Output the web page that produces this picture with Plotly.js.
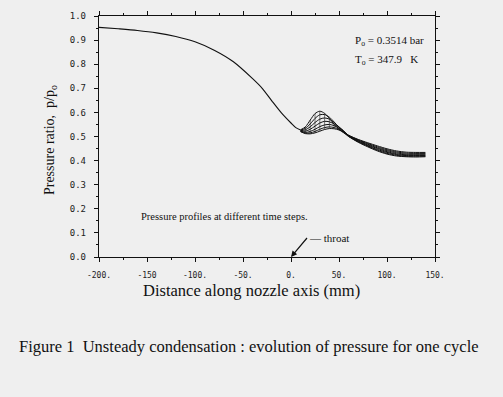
<!DOCTYPE html>
<html><head><meta charset="utf-8">
<script src="https://cdn.plot.ly/plotly-3.0.1.min.js"></script>
<style>html,body{margin:0;padding:0;background:#efefef;}</style>
</head><body><div id="plot" style="width:503px;height:397px;"></div>
<script>
// Shared upstream profile (mm, p/p0)
const xUp = [-200,-180,-160,-140,-120,-100,-80,-60,-40,-30,-20,-10,0,5,10];
const pUp = [0.953,0.947,0.940,0.930,0.915,0.893,0.858,0.810,0.740,0.700,0.648,0.598,0.556,0.537,0.527];
// Downstream profiles at different time steps
const xDown = [10,15,20,25,30,35,40,45,50,55,60,70,80,90,100,110,120,130,140];
const step1 = [0.528,0.540,0.568,0.595,0.605,0.596,0.575,0.550,0.530,0.515,0.500,0.476,0.457,0.440,0.427,0.419,0.416,0.415,0.416];
const step2 = [0.526,0.534,0.552,0.575,0.590,0.591,0.580,0.560,0.538,0.520,0.501,0.478,0.460,0.443,0.430,0.422,0.418,0.418,0.418];
const step3 = [0.524,0.528,0.540,0.558,0.572,0.577,0.572,0.557,0.540,0.523,0.502,0.480,0.462,0.446,0.434,0.425,0.421,0.421,0.421];
const step4 = [0.523,0.522,0.530,0.543,0.556,0.563,0.561,0.552,0.538,0.522,0.503,0.482,0.465,0.450,0.437,0.428,0.424,0.424,0.424];
const step5 = [0.522,0.517,0.521,0.530,0.541,0.548,0.550,0.545,0.534,0.520,0.504,0.484,0.468,0.453,0.441,0.432,0.427,0.427,0.427];
const step6 = [0.521,0.514,0.515,0.521,0.530,0.537,0.540,0.537,0.530,0.518,0.505,0.486,0.471,0.457,0.445,0.436,0.431,0.430,0.430];
const step7 = [0.520,0.512,0.511,0.515,0.522,0.529,0.533,0.532,0.527,0.517,0.505,0.488,0.474,0.461,0.449,0.440,0.435,0.434,0.434];
const steps = [step1,step2,step3,step4,step5,step6,step7];
const xTicks = [-200,-150,-100,-50,0,50,100,150];
const xTickText = ['-200.','-150','-100.','-50.','0.','50.','100.','150.'];
const yTicks = [0,0.1,0.2,0.3,0.4,0.5,0.6,0.7,0.8,0.9,1.0];
const yTickText = ['0.0','0.1','0.2','0.3','0.4','0.5','0.6','0.7','0.8','0.9','1.0'];

const lineStyle = {color:'#111', width:1.1, shape:'spline', smoothing:0.8};
const traces = [{x:xUp, y:pUp, mode:'lines', line:lineStyle, hoverinfo:'skip'}];
steps.forEach(s => traces.push({x:xDown, y:s, mode:'lines', line:{color:'#111', width:1.0, shape:'spline', smoothing:0.8}, hoverinfo:'skip'}));
// mesh connectors between time steps in the bump region
const mx = [], my = [];
xDown.forEach((x,i) => { if (x>=15 && x<=55) { mx.push(x,x,null); my.push(step1[i], step7[i], null); } });
traces.push({x:mx, y:my, mode:'lines', line:{color:'#222', width:0.6}, hoverinfo:'skip'});

const serif = 'Liberation Serif, Times New Roman, serif';
const axisCommon = {showline:true, linecolor:'#111', linewidth:1.2, mirror:'ticks', ticks:'outside', ticklen:4, tickcolor:'#111', tickwidth:1, showgrid:false, zeroline:false};
const layout = {
  width:503, height:397, showlegend:false,
  paper_bgcolor:'#efefef', plot_bgcolor:'#efefef',
  margin:{l:99, r:68, t:16, b:140},
  xaxis:Object.assign({}, axisCommon, {range:[-200,150], tickvals:xTicks, ticktext:xTickText, ticklabelstandoff:6,
    tickfont:{family:'DejaVu Sans Mono, monospace', size:8, color:'#222'},
    minor:{dtick:25, ticks:'outside', ticklen:2, tickcolor:'#111'}}),
  yaxis:Object.assign({}, axisCommon, {range:[0,1], tickvals:yTicks, ticktext:yTickText, ticklabelstandoff:6,
    tickfont:{family:'DejaVu Sans Mono, monospace', size:9, color:'#222'},
    minor:{dtick:0.05, ticks:'outside', ticklen:2, tickcolor:'#111'}}),
  annotations:[
    {xref:'paper', yref:'paper', x:-0.146, y:0.485, xanchor:'center', yanchor:'middle', text:'Pressure ratio,  p/p<sub>o</sub>', textangle:-90, showarrow:false, font:{family:serif, size:14, color:'#111'}},
    {xref:'paper', yref:'paper', x:0.455, y:-0.137, xanchor:'center', yanchor:'middle', text:'Distance along nozzle axis (mm)', showarrow:false, font:{family:serif, size:16.5, color:'#111'}},
    {xref:'paper', yref:'paper', x:0.446, y:-0.373, xanchor:'center', yanchor:'middle', text:'Figure 1  Unsteady condensation : evolution of pressure for one cycle', showarrow:false, font:{family:serif, size:16.5, color:'#111'}},
    {x:64.6, y:0.896, xanchor:'left', yanchor:'middle', text:'P<sub>o</sub> = 0.3514 bar', showarrow:false, font:{family:serif, size:11, color:'#111'}},
    {x:64.6, y:0.817, xanchor:'left', yanchor:'middle', text:'T<sub>o</sub> = 347.9\u00a0\u00a0 K', showarrow:false, font:{family:serif, size:11, color:'#111'}},
    {x:-158, y:0.166, xanchor:'left', yanchor:'middle', text:'Pressure profiles at different time steps.', showarrow:false, font:{family:serif, size:10.5, color:'#111'}},
    {x:0, y:0, text:'\u2014 throat', xanchor:'left', yanchor:'middle', showarrow:true, ax:16, ay:-19, arrowhead:2, arrowsize:1, arrowwidth:1.2, arrowcolor:'#111', font:{family:serif, size:11, color:'#111'}}
  ]
};
Plotly.newPlot('plot', traces, layout, {displayModeBar:false, staticPlot:true});
</script></body></html>
